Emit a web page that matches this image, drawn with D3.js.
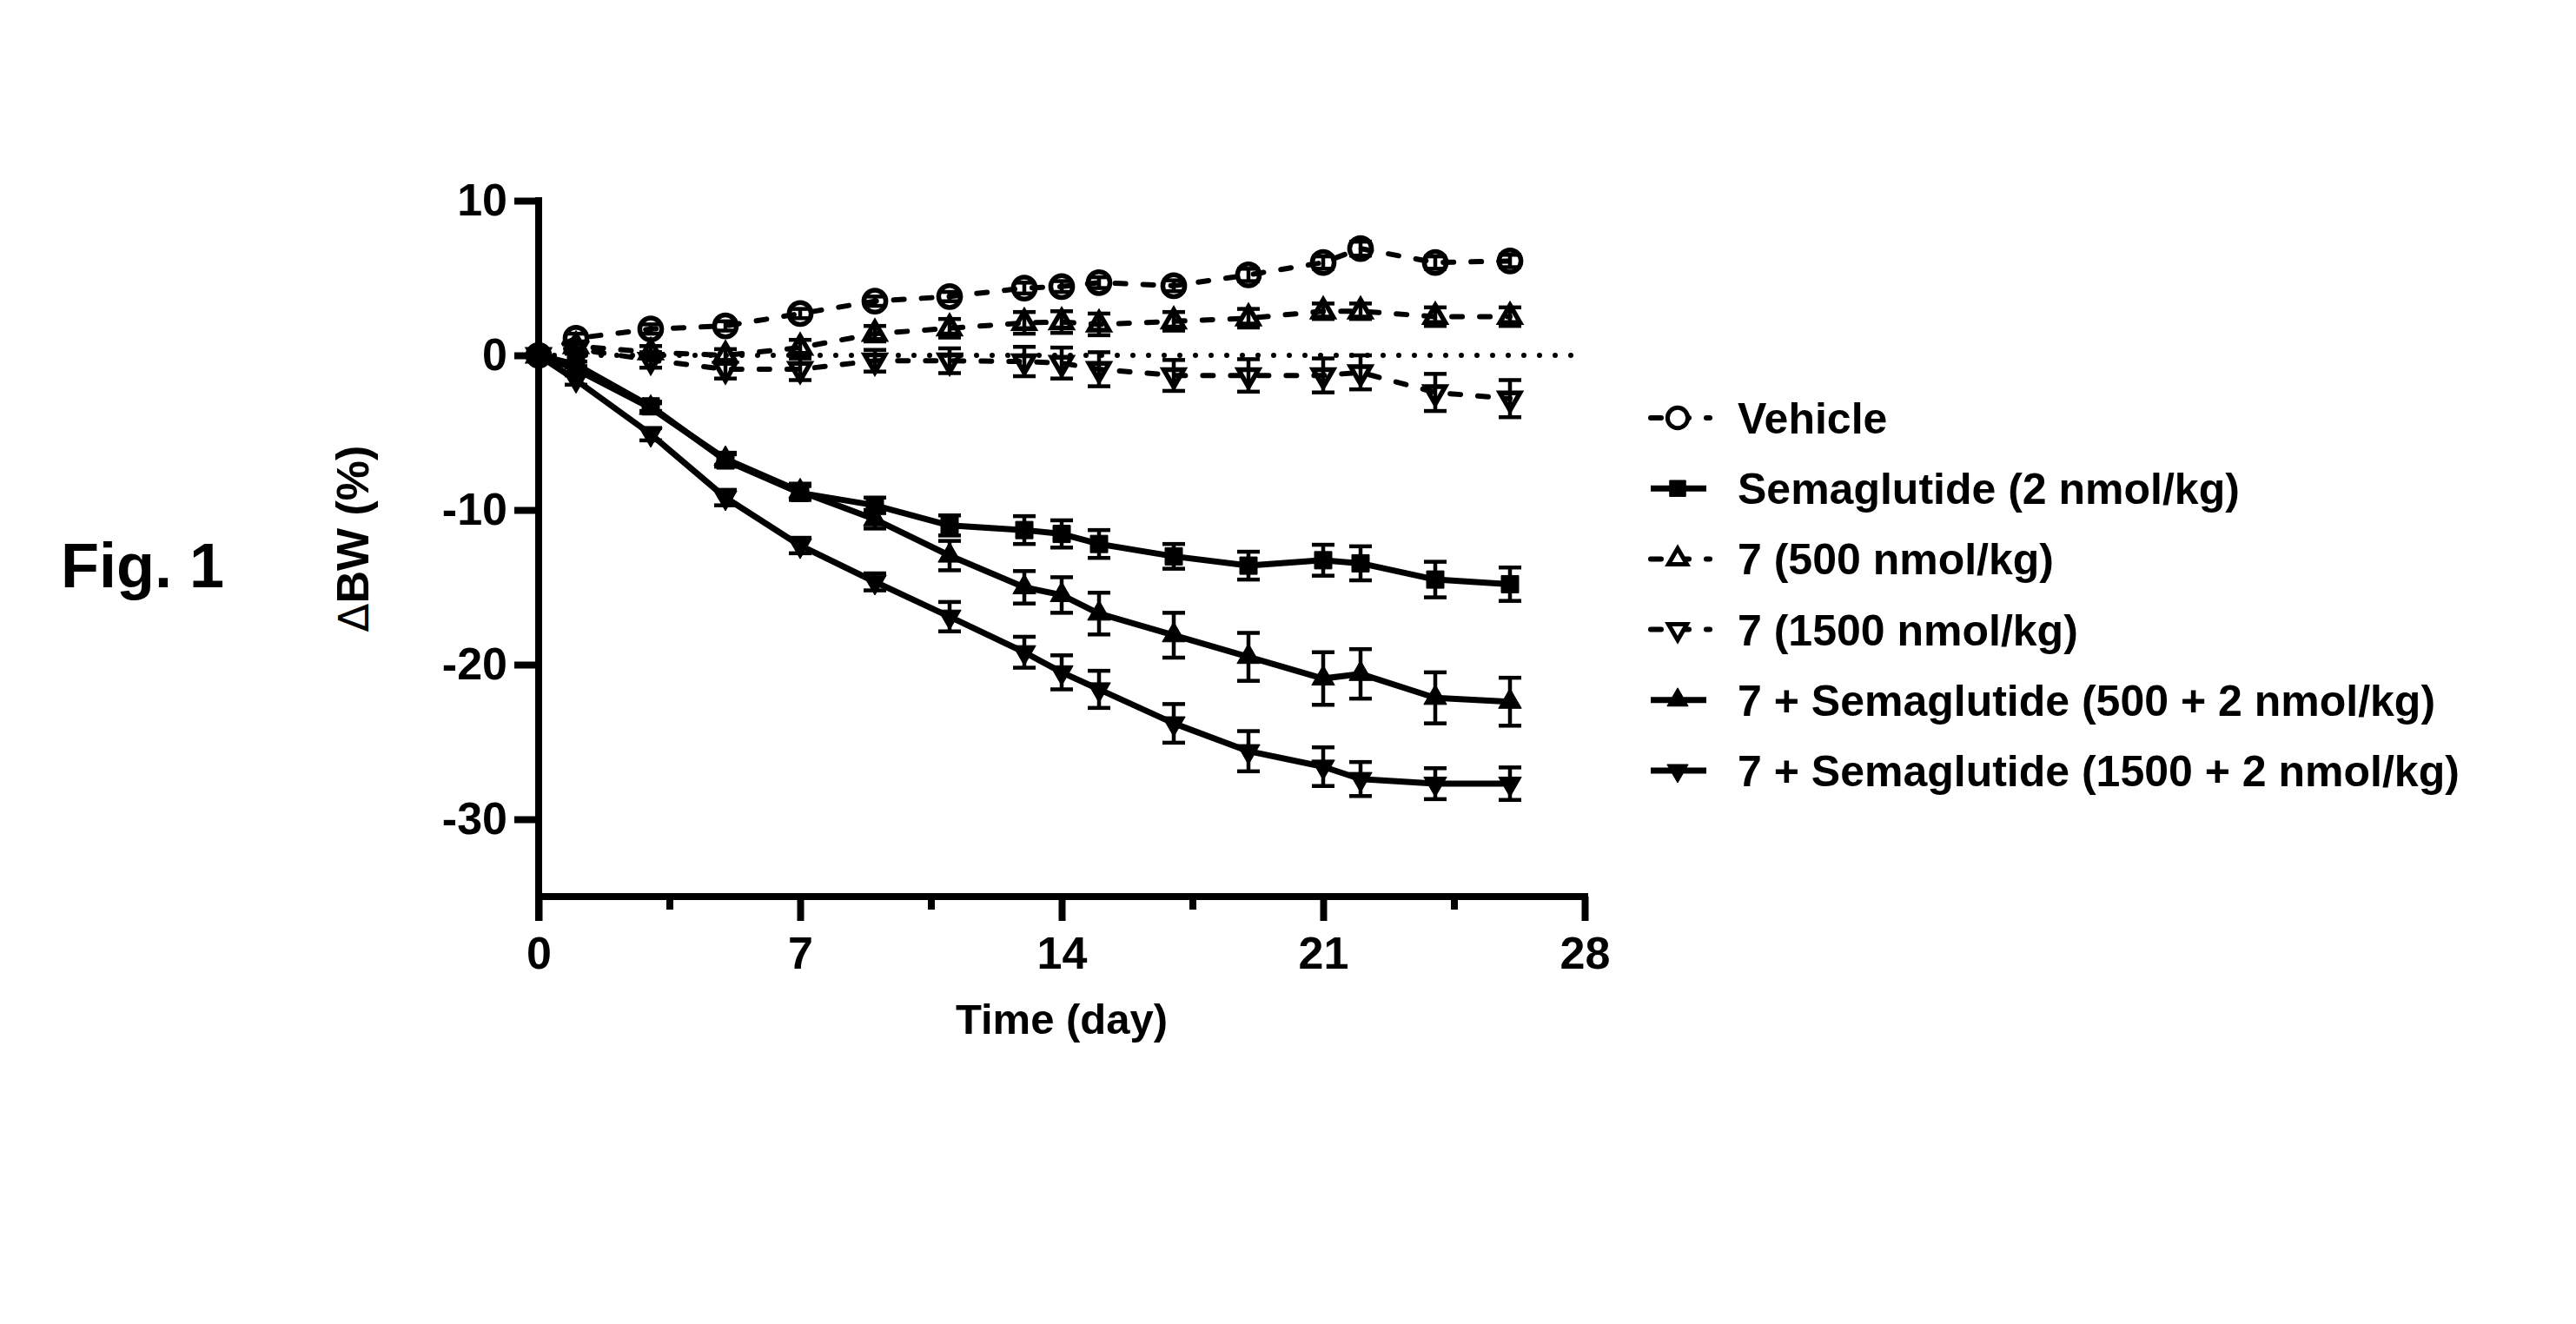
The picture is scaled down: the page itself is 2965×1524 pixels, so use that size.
<!DOCTYPE html>
<html>
<head>
<meta charset="utf-8">
<script src="https://cdn.jsdelivr.net/npm/d3@7"></script>
<style>
  body { margin: 0; background: #fff; }
  text { font-family: "Liberation Sans", Arial, sans-serif; font-weight: bold; fill: #000; }
</style>
</head>
<body>
<div id="chart"></div>
<script>
// days of measurement
const days = [0, 1, 3, 5, 7, 9, 11, 13, 14, 15, 17, 19, 21, 22, 24, 26];

// mean change in body weight (%) and SEM for each group
const vehicle = [0, 1.1, 1.7, 1.9, 2.7, 3.5, 3.8, 4.35, 4.45, 4.7, 4.5, 5.2, 6.0, 6.9, 6.0, 6.1];
const vehicleErr = [0, 0.3, 0.3, 0.3, 0.3, 0.3, 0.3, 0.35, 0.35, 0.35, 0.35, 0.4, 0.4, 0.45, 0.4, 0.4];
const sema = [0, -0.6, -3.3, -6.8, -8.9, -9.7, -11.0, -11.3, -11.55, -12.2, -13.0, -13.6, -13.25, -13.45, -14.5, -14.8];
const semaErr = [0, 0.2, 0.3, 0.4, 0.45, 0.5, 0.65, 0.9, 0.88, 0.9, 0.8, 0.9, 1.0, 1.1, 1.15, 1.08];
const c500 = [0, 0.6, 0.2, 0.0, 0.5, 1.4, 1.75, 2.1, 2.15, 2.0, 2.2, 2.4, 2.85, 2.85, 2.5, 2.5];
const c500Err = [0, 0.3, 0.4, 0.4, 0.5, 0.5, 0.6, 0.7, 0.7, 0.7, 0.6, 0.6, 0.5, 0.5, 0.6, 0.6];
const c1500 = [0, 0.4, -0.3, -0.9, -0.9, -0.35, -0.35, -0.4, -0.5, -0.9, -1.3, -1.3, -1.3, -1.1, -2.4, -2.8];
const c1500Err = [0, 0.3, 0.5, 0.6, 0.7, 0.7, 0.8, 0.95, 1.0, 1.1, 1.0, 1.05, 1.1, 1.1, 1.2, 1.2];
const combo500 = [0, -0.9, -3.4, -6.7, -8.8, -10.6, -12.95, -15.0, -15.5, -16.7, -18.1, -19.5, -20.9, -20.6, -22.15, -22.4];
const combo500Err = [0, 0.2, 0.3, 0.4, 0.5, 0.6, 0.95, 1.05, 1.15, 1.35, 1.45, 1.55, 1.7, 1.6, 1.65, 1.55];
const combo1500 = [0, -1.6, -5.1, -9.2, -12.3, -14.65, -16.9, -19.2, -20.5, -21.6, -23.8, -25.6, -26.6, -27.4, -27.7, -27.7];
const combo1500Err = [0, 0.3, 0.4, 0.5, 0.5, 0.55, 0.95, 1.0, 1.1, 1.2, 1.25, 1.3, 1.25, 1.1, 1.0, 1.05];

const groupNames = [
  "Vehicle",
  "Semaglutide (2 nmol/kg)",
  "7 (500 nmol/kg)",
  "7 (1500 nmol/kg)",
  "7 + Semaglutide (500 + 2 nmol/kg)",
  "7 + Semaglutide (1500 + 2 nmol/kg)"
];

const xTicks = [0, 7, 14, 21, 28];
const xMinorTicks = [3.5, 10.5, 17.5, 24.5];
const yTicks = [10, 0, -10, -20, -30];

// symbol style per group
const groups = [
  { name: groupNames[0], values: vehicle, err: vehicleErr, symbol: d3.symbolCircle, size: 500, rotate: 0, filled: false, dashed: true },
  { name: groupNames[1], values: sema, err: semaErr, symbol: d3.symbolSquare, size: 400, rotate: 0, filled: true, dashed: false },
  { name: groupNames[2], values: c500, err: c500Err, symbol: d3.symbolTriangle, size: 230, rotate: 0, filled: false, dashed: true },
  { name: groupNames[3], values: c1500, err: c1500Err, symbol: d3.symbolTriangle, size: 230, rotate: 180, filled: false, dashed: true },
  { name: groupNames[4], values: combo500, err: combo500Err, symbol: d3.symbolTriangle, size: 300, rotate: 0, filled: true, dashed: false },
  { name: groupNames[5], values: combo1500, err: combo1500Err, symbol: d3.symbolTriangle, size: 300, rotate: 180, filled: true, dashed: false }
];

const width = 2965, height = 1524;

const svg = d3.select("#chart").append("svg")
  .attr("width", width)
  .attr("height", height);

svg.append("rect").attr("width", width).attr("height", height).attr("fill", "#fff");

const x = d3.scaleLinear().domain([0, 28]).range([620, 1824]);
const y = d3.scaleLinear().domain([-35, 10]).range([1032, 231]);

// dotted zero line
svg.append("line")
  .attr("x1", x(0)).attr("x2", x(28))
  .attr("y1", y(0)).attr("y2", y(0))
  .attr("stroke", "#000")
  .attr("stroke-width", 6)
  .attr("stroke-linecap", "round")
  .attr("stroke-dasharray", "0 18");

// y axis
const yAxis = svg.append("g")
  .attr("transform", `translate(${x(0)},0)`)
  .call(d3.axisLeft(y).tickValues(yTicks).tickSize(28).tickSizeOuter(0).tickPadding(8).tickFormat(d => String(d)));
yAxis.select(".domain").remove();
yAxis.selectAll(".tick line").attr("stroke", "#000").attr("stroke-width", 8);
yAxis.selectAll(".tick text").attr("font-size", 52).attr("font-family", "Liberation Sans, Arial, sans-serif");
svg.append("line")
  .attr("x1", x(0)).attr("x2", x(0))
  .attr("y1", y(10) - 4).attr("y2", y(-35) + 28)
  .attr("stroke", "#000").attr("stroke-width", 8);

// x axis
const xAxis = svg.append("g")
  .attr("transform", `translate(0,${y(-35)})`)
  .call(d3.axisBottom(x).tickValues(xTicks).tickSize(28).tickSizeOuter(0).tickPadding(18).tickFormat(d => String(d)));
xAxis.select(".domain").remove();
xAxis.selectAll(".tick line").attr("stroke", "#000").attr("stroke-width", 8);
xAxis.selectAll(".tick text").attr("font-size", 52).attr("font-family", "Liberation Sans, Arial, sans-serif");

const xMinor = svg.append("g")
  .attr("transform", `translate(0,${y(-35)})`)
  .call(d3.axisBottom(x).tickValues(xMinorTicks).tickSize(15).tickSizeOuter(0).tickFormat(""));
xMinor.select(".domain").remove();
xMinor.selectAll(".tick line").attr("stroke", "#000").attr("stroke-width", 8);

svg.append("line")
  .attr("x1", x(0)).attr("x2", x(28) + 4)
  .attr("y1", y(-35)).attr("y2", y(-35))
  .attr("stroke", "#000").attr("stroke-width", 8);

// axis titles
svg.append("text")
  .attr("x", x(14)).attr("y", 1190)
  .attr("text-anchor", "middle")
  .attr("font-size", 49)
  .text("Time (day)");

const yTitle = svg.append("text")
  .attr("transform", "translate(424,620) rotate(-90)")
  .attr("text-anchor", "middle")
  .attr("font-size", 52);
yTitle.append("tspan")
  .attr("font-weight", "normal")
  .attr("font-family", "DejaVu Sans, sans-serif")
  .attr("font-size", 48)
  .text("\u0394");
yTitle.append("tspan").text("BW (%)");

svg.append("text")
  .attr("x", 70).attr("y", 676)
  .attr("font-size", 72)
  .text("Fig. 1");

// series
const line = d3.line().x((d, i) => x(days[i])).y(d => y(d));

groups.forEach(g => {
  const layer = svg.append("g");

  layer.append("path")
    .datum(g.values)
    .attr("d", line)
    .attr("fill", "none")
    .attr("stroke", "#000")
    .attr("stroke-width", g.dashed ? 6 : 7)
    .attr("stroke-linecap", g.dashed ? "round" : "butt")
    .attr("stroke-linejoin", "round")
    .attr("stroke-dasharray", g.dashed ? "12 20" : null);

  const bars = layer.selectAll(".err")
    .data(g.values.map((v, i) => ({ day: days[i], v: v, e: g.err[i] })).filter(d => d.e > 0))
    .enter().append("g")
    .attr("class", "err");
  bars.append("line")
    .attr("x1", d => x(d.day)).attr("x2", d => x(d.day))
    .attr("y1", d => y(d.v - d.e)).attr("y2", d => y(d.v + d.e))
    .attr("stroke", "#000").attr("stroke-width", 4.5);
  bars.append("line")
    .attr("x1", d => x(d.day) - 13).attr("x2", d => x(d.day) + 13)
    .attr("y1", d => y(d.v + d.e)).attr("y2", d => y(d.v + d.e))
    .attr("stroke", "#000").attr("stroke-width", 4.5);
  bars.append("line")
    .attr("x1", d => x(d.day) - 13).attr("x2", d => x(d.day) + 13)
    .attr("y1", d => y(d.v - d.e)).attr("y2", d => y(d.v - d.e))
    .attr("stroke", "#000").attr("stroke-width", 4.5);

  layer.selectAll(".pt")
    .data(g.values)
    .enter().append("path")
    .attr("class", "pt")
    .attr("d", d3.symbol().type(g.symbol).size(g.size))
    .attr("transform", (d, i) => `translate(${x(days[i])},${y(d)}) rotate(${g.rotate})`)
    .attr("fill", g.filled ? "#000" : "none")
    .attr("stroke", "#000")
    .attr("stroke-width", g.filled ? 1 : 5.5)
    .attr("stroke-linejoin", "miter");
});

// legend
const legendY = d3.scaleLinear().domain([0, 5]).range([481, 887]);
const legend = svg.append("g");
groups.forEach((g, i) => {
  const ly = legendY(i);
  legend.append("line")
    .attr("x1", 1900).attr("x2", g.dashed ? 1968 : 1964)
    .attr("y1", ly).attr("y2", ly)
    .attr("stroke", "#000")
    .attr("stroke-width", g.dashed ? 6 : 7)
    .attr("stroke-linecap", g.dashed ? "round" : "butt")
    .attr("stroke-dasharray", g.dashed ? "12 20" : null);
  legend.append("path")
    .attr("d", d3.symbol().type(g.symbol).size(g.size * 0.85))
    .attr("transform", `translate(1931,${ly}) rotate(${g.rotate})`)
    .attr("fill", g.filled ? "#000" : "#fff")
    .attr("stroke", "#000")
    .attr("stroke-width", g.filled ? 1 : 5);
  legend.append("text")
    .attr("x", 2000).attr("y", ly)
    .attr("dy", "0.36em")
    .attr("font-size", 50)
    .text(g.name);
});
</script>
</body>
</html>
